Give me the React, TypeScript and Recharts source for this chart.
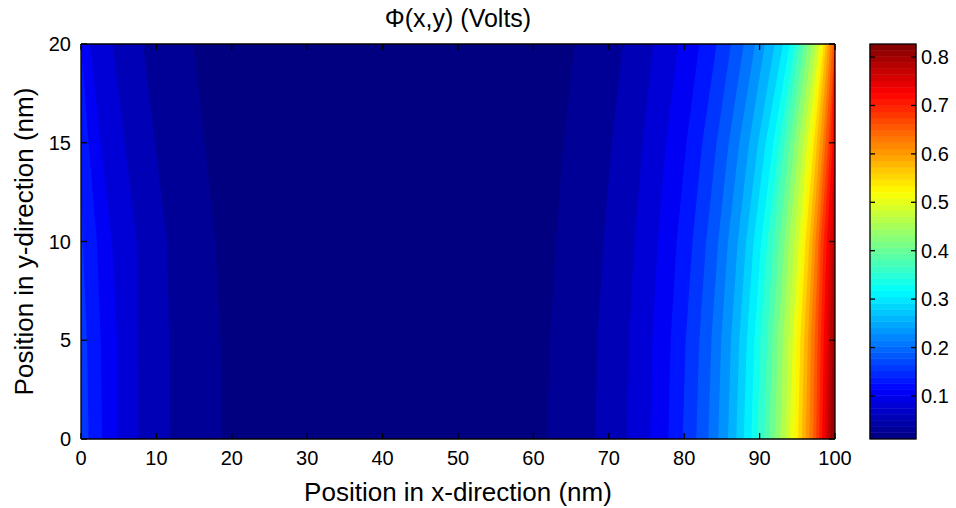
import React from 'react';
import { ComposedChart, Area, Bar, XAxis, YAxis, Label } from 'recharts';

// ---- data ----
const ySamples = [0, 5, 10, 15, 20];
const levels = [0.03, 0.055, 0.08, 0.105, 0.13, 0.155, 0.18, 0.205, 0.23, 0.255, 0.28, 0.305, 0.33, 0.355, 0.38, 0.405, 0.43, 0.455, 0.48, 0.505, 0.53, 0.555, 0.58, 0.605, 0.63, 0.655, 0.68, 0.705, 0.73, 0.755, 0.78, 0.805];

// x position (nm) of the right-hand contour of each level, at each y sample
const rightX_y0 = [61.8, 68.2, 72.4, 75.5, 77.9, 79.8, 81.6, 83.2, 84.5, 85.8, 86.9, 87.9, 88.9, 89.7, 90.6, 91.3, 92.0, 92.7, 93.4, 94.0, 94.6, 95.1, 95.6, 96.1, 96.6, 97.1, 97.5, 97.9, 98.3, 98.7, 99.0, 99.4];
const rightX_y5 = [62.2, 68.5, 72.7, 75.8, 78.2, 80.2, 82.0, 83.6, 84.9, 86.2, 87.3, 88.3, 89.3, 90.1, 91.0, 91.7, 92.4, 93.1, 93.8, 94.4, 94.9, 95.4, 95.9, 96.4, 96.8, 97.3, 97.7, 98.1, 98.5, 98.9, 99.3, 99.7];
const rightX_y10 = [63.0, 69.3, 73.4, 76.5, 79.0, 81.1, 82.9, 84.5, 85.8, 87.1, 88.2, 89.2, 90.2, 91.0, 91.8, 92.6, 93.3, 93.9, 94.6, 95.2, 95.7, 96.1, 96.6, 97.0, 97.4, 97.8, 98.1, 98.5, 98.9, 99.3, 99.7, 100];
const rightX_y15 = [64.0, 70.4, 74.5, 77.6, 80.3, 82.4, 84.3, 85.9, 87.3, 88.6, 89.8, 90.8, 91.8, 92.6, 93.3, 94.0, 94.6, 95.2, 95.8, 96.3, 96.8, 97.2, 97.6, 98.0, 98.4, 98.7, 99.1, 99.4, 99.7, 100, 100, 100];
const rightX_y20 = [65.5, 71.9, 75.9, 79.2, 82.0, 84.3, 86.2, 87.9, 89.4, 90.7, 92.0, 93.1, 94.0, 94.7, 95.3, 95.9, 96.4, 97.0, 97.5, 97.9, 98.2, 98.5, 98.8, 99.1, 99.4, 99.7, 99.95, 100, 100, 100, 100, 100];

// x position (nm) of the left-hand contour of the lowest levels (higher levels start at x = 0)
const leftX_y0 = [18.7, 11.8, 7.6, 4.9, 2.8, 1.0];
const leftX_y5 = [18.5, 11.7, 7.5, 4.8, 2.6, 0.8];
const leftX_y10 = [17.8, 11.4, 7.4, 4.1, 2.1, 0.2];
const leftX_y15 = [16.4, 9.8, 5.8, 2.6, 1.0, 0];
const leftX_y20 = [14.9, 8.2, 4.2, 1.2, 0, 0];

const phiMin = 0.011;
const phiMax = 0.827;

const xTicks = [0, 10, 20, 30, 40, 50, 60, 70, 80, 90, 100];
const yTicks = [0, 5, 10, 15, 20];
const cbTicks = [0.1, 0.2, 0.3, 0.4, 0.5, 0.6, 0.7, 0.8];
const cbSteps = 64;

// ---- build tables ----
const rightRows = [rightX_y0, rightX_y5, rightX_y10, rightX_y15, rightX_y20];
const leftRows = [leftX_y0, leftX_y5, leftX_y10, leftX_y15, leftX_y20];

const rows = ySamples.map((y, i) => {
  const row: any = { y, full: [0, 100] };
  levels.forEach((_, k) => {
    const l = leftRows[i][k] !== undefined ? leftRows[i][k] : 0;
    row['c' + k] = [l, rightRows[i][k]];
  });
  return row;
});

function jet(t: number) {
  const c = (v: number) => Math.max(0, Math.min(1, v));
  const r = c(1.5 - Math.abs(4 * t - 3));
  const g = c(1.5 - Math.abs(4 * t - 2));
  const b = c(1.5 - Math.abs(4 * t - 1));
  return `rgb(${Math.round(r * 255)},${Math.round(g * 255)},${Math.round(b * 255)})`;
}
const tOf = (v: number) => (v - phiMin) / (phiMax - phiMin);
const bandColor = (k: number) => jet(tOf(k === 0 ? phiMin : levels[k - 1]));
const topColor = jet(tOf(levels[levels.length - 1]));

// colour bar: one stacked row (base offset + 64 equal cells of the colormap)
const cbStep = (phiMax - phiMin) / cbSteps;
const cbRow: any = { name: 'cb', base: phiMin };
for (let i = 0; i < cbSteps; i++) cbRow['s' + i] = cbStep;
const cbData = [cbRow];
const cbKeys = Array.from({ length: cbSteps }, (_, i) => i);

// ---- layout constants ----
const W = 956;
const H = 508;
const PL = 81, PR = 835, PT = 44, PB = 439;
const CBL = 870, CBR = 916;
const FONT = '"Liberation Sans", Arial, Helvetica, sans-serif';
const TICK_FS = 20;
const TL = 6;

const txt = { fontFamily: FONT, fontSize: TICK_FS, fill: '#000' } as const;

const BottomTick = (p: any) => (
  <g>
    <line x1={p.x} x2={p.x} y1={PB} y2={PB - TL} stroke="#000" strokeWidth={1.3} />
    <text x={p.x} y={PB + 26} textAnchor="middle" {...txt}>{p.payload.value}</text>
  </g>
);
const TopTick = (p: any) => (
  <line x1={p.x} x2={p.x} y1={PT} y2={PT + TL} stroke="#000" strokeWidth={1.3} />
);
const LeftTick = (p: any) => (
  <g>
    <line x1={PL} x2={PL + TL} y1={p.y} y2={p.y} stroke="#000" strokeWidth={1.3} />
    <text x={PL - 10} y={p.y + 7} textAnchor="end" {...txt}>{p.payload.value}</text>
  </g>
);
const RightTick = (p: any) => (
  <line x1={PR} x2={PR - TL} y1={p.y} y2={p.y} stroke="#000" strokeWidth={1.3} />
);
const CbTick = (p: any) => (
  <g>
    <line x1={CBR} x2={CBR - 5} y1={p.y} y2={p.y} stroke="#000" strokeWidth={1.3} />
    <line x1={CBL} x2={CBL + 5} y1={p.y} y2={p.y} stroke="#000" strokeWidth={1.3} />
    <text x={CBR + 5} y={p.y + 7} textAnchor="start" {...txt}>{Number(p.payload.value).toFixed(1)}</text>
  </g>
);

const axisLine = { stroke: '#000', strokeWidth: 1.3 };

export default function App() {
  const bandOrder = levels.map((_, k) => levels.length - 1 - k);
  return (
    <div style={{ position: 'absolute', left: 0, top: 0, width: W, height: H, background: '#fff' }}>
      <div style={{ position: 'absolute', left: 0, top: 0 }}>
        <ComposedChart
          layout="vertical"
          width={W}
          height={H}
          data={rows}
          margin={{ top: PT - 1, right: W - PR - 1, bottom: 0, left: 0 }}
        >
          <XAxis xAxisId="b" type="number" orientation="bottom" domain={[0, 100]} ticks={xTicks}
            allowDataOverflow height={H - PB} tickSize={0} tickMargin={0} tickLine={false}
            axisLine={axisLine} tick={BottomTick} interval={0}>
            <Label content={() => (
              <text x={(PL + PR) / 2} y={501} textAnchor="middle" fontFamily={FONT} fontSize={26} fill="#000">
                Position in x-direction (nm)
              </text>
            )} />
          </XAxis>
          <XAxis xAxisId="t" type="number" orientation="top" domain={[0, 100]} ticks={xTicks}
            allowDataOverflow height={1} tickSize={0} tickMargin={0} tickLine={false}
            axisLine={axisLine} tick={TopTick} interval={0} />
          <YAxis yAxisId="l" type="number" dataKey="y" orientation="left" domain={[0, 20]} reversed
            ticks={yTicks} allowDataOverflow width={PL} tickSize={0} tickMargin={0} tickLine={false}
            axisLine={axisLine} tick={LeftTick} interval={0}>
            <Label content={() => (
              <g>
                <text x={33} y={(PT + PB) / 2} transform={`rotate(-90, 33, ${(PT + PB) / 2})`}
                  textAnchor="middle" fontFamily={FONT} fontSize={26} fill="#000">
                  Position in y-direction (nm)
                </text>
                <text x={(PL + PR) / 2} y={27} textAnchor="middle" fontFamily={FONT} fontSize={25} fill="#000">
                  Φ(x,y) (Volts)
                </text>
              </g>
            )} />
          </YAxis>
          <YAxis yAxisId="r" type="number" dataKey="y" orientation="right" domain={[0, 20]} reversed
            ticks={yTicks} allowDataOverflow width={1} tickSize={0} tickMargin={0} tickLine={false}
            axisLine={axisLine} tick={RightTick} interval={0} />

          <Area xAxisId="b" yAxisId="l" dataKey="full" type="linear" fill={topColor} fillOpacity={1}
            stroke="none" dot={false} activeDot={false} isAnimationActive={false} />
          {bandOrder.map((k) => (
            <Area key={k} xAxisId="b" yAxisId="l" dataKey={'c' + k} type="linear" fill={bandColor(k)}
              fillOpacity={1} stroke="none" dot={false} activeDot={false} isAnimationActive={false} />
          ))}
          {/* invisible helper so the top / right frame axes are drawn */}
          <Area xAxisId="t" yAxisId="r" dataKey="full" type="linear" fill="none" fillOpacity={0}
            stroke="none" dot={false} activeDot={false} isAnimationActive={false} />
        </ComposedChart>
      </div>
      <div style={{ position: 'absolute', left: 0, top: 0, pointerEvents: 'none' }}>
        <ComposedChart width={W} height={H} data={cbData} barCategoryGap={0} barGap={0}
          margin={{ top: PT, right: W - CBR - 1, bottom: H - PB, left: CBL }}>
          <XAxis xAxisId="cx" type="category" dataKey="name" hide />
          <YAxis yAxisId="cy" type="number" orientation="right" domain={[phiMin, phiMax]} allowDataOverflow
            ticks={cbTicks} width={1} tickSize={0} tickMargin={0} tickLine={false} axisLine={false}
            tick={CbTick} interval={0} />
          <Bar xAxisId="cx" yAxisId="cy" stackId="cb" dataKey="base" fill="none" isAnimationActive={false} />
          {cbKeys.map((i) => (
            <Bar key={i} xAxisId="cx" yAxisId="cy" stackId="cb" dataKey={'s' + i}
              fill={jet((i + 0.5) / cbSteps)} stroke={jet((i + 0.5) / cbSteps)} strokeWidth={0.6}
              isAnimationActive={false} />
          ))}
        </ComposedChart>
        <svg width={W} height={H} style={{ position: 'absolute', left: 0, top: 0 }}>
          <rect x={CBL} y={PT} width={CBR - CBL} height={PB - PT} fill="none" stroke="#000" strokeWidth={1.3} />
        </svg>
      </div>
    </div>
  );
}
